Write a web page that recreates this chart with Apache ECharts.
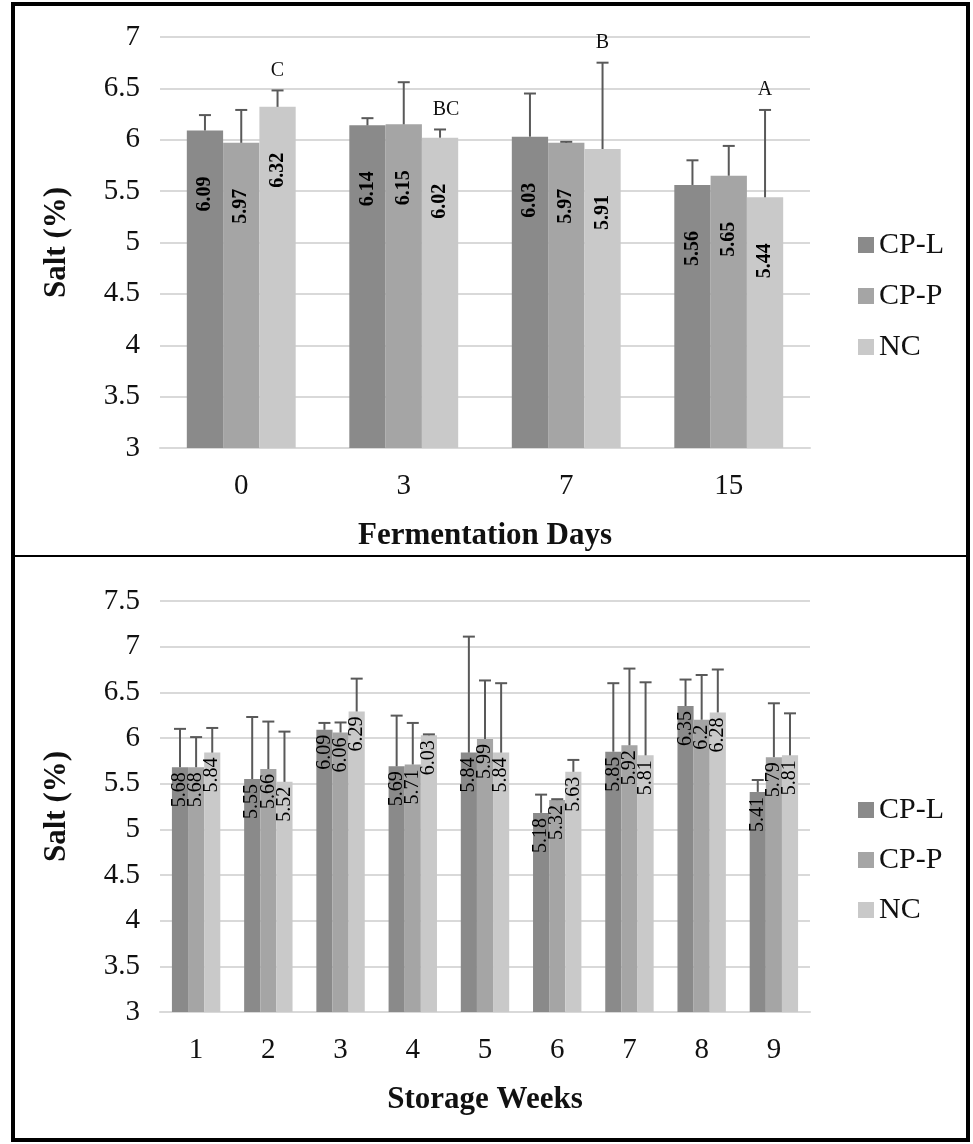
<!DOCTYPE html>
<html>
<head>
<meta charset="utf-8">
<script src="https://cdn.jsdelivr.net/npm/echarts@6/dist/echarts.min.js"></script>
<style>
html,body{margin:0;padding:0;background:#fff;}
#chart{width:973px;height:1144px;}
</style>
</head>
<body>
<div id="chart"></div>
<script>
// ---- Data ----
const seriesNames = ['CP-L', 'CP-P', 'NC'];

// Top chart: Fermentation days
const dayCategories = ['0', '3', '7', '15'];
const dayCPL = [6.09, 6.14, 6.03, 5.56];
const dayCPP = [5.97, 6.15, 5.97, 5.65];
const dayNC  = [6.32, 6.02, 5.91, 5.44];
const dayErrCPL = [0.15, 0.07, 0.42, 0.24];
const dayErrCPP = [0.32, 0.41, 0.01, 0.29];
const dayErrNC  = [0.16, 0.08, 0.84, 0.85];
const daySigLetters = ['C', 'BC', 'B', 'A'];

// Bottom chart: Storage weeks
const weekCategories = ['1', '2', '3', '4', '5', '6', '7', '8', '9'];
const weekCPL = [5.68, 5.55, 6.09, 5.69, 5.84, 5.18, 5.85, 6.35, 5.41];
const weekCPP = [5.68, 5.66, 6.06, 5.71, 5.99, 5.32, 5.92, 6.2, 5.79];
const weekNC  = [5.84, 5.52, 6.29, 6.03, 5.84, 5.63, 5.81, 6.28, 5.81];
const weekErrCPL = [0.42, 0.68, 0.075, 0.555, 1.27, 0.20, 0.75, 0.29, 0.13];
const weekErrCPP = [0.33, 0.52, 0.11, 0.455, 0.64, 0.01, 0.84, 0.49, 0.59];
const weekErrNC  = [0.27, 0.55, 0.36, 0.01, 0.76, 0.13, 0.80, 0.47, 0.46];

const topYTicks = {min: 3, max: 7, interval: 0.5};
const botYTicks = {min: 3, max: 7.5, interval: 0.5};

// ---- Styles ----
const colors = ['#8a8a8a', '#a5a5a5', '#c9c9c9'];
const serif = 'Liberation Serif, Times New Roman, serif';
const gridColor = '#d9d9d9';
const errColor = '#595959';
const catGap = 0.33;

function barSeries(name, data, idx, gridIdx, labelCfg) {
  return {
    name: name, type: 'bar', xAxisIndex: gridIdx, yAxisIndex: gridIdx,
    data: data, barGap: '0%', barCategoryGap: '33%',
    itemStyle: {color: colors[idx]},
    label: labelCfg,
    z: 2
  };
}

function errSeries(name, values, errs, idx, gridIdx, letters) {
  return {
    name: name, type: 'custom', xAxisIndex: gridIdx, yAxisIndex: gridIdx,
    data: values.map((v, i) => [i, v, errs[i]]),
    z: 5, silent: true,
    renderItem: function (params, api) {
      const ci = api.value(0), v = api.value(1), e = api.value(2);
      const band = api.size([1, 0])[0];
      const bw = band * (1 - catGap) / 3;
      const base = api.coord([ci, v]);
      const top = api.coord([ci, v + e]);
      const x = base[0] + (idx - 1) * bw;
      const children = [
        {type: 'line', shape: {x1: x, y1: base[1], x2: x, y2: top[1]},
         style: {stroke: errColor, lineWidth: 2}},
        {type: 'line', shape: {x1: x - 6, y1: top[1], x2: x + 6, y2: top[1]},
         style: {stroke: errColor, lineWidth: 2}}
      ];
      if (letters) {
        children.push({type: 'text', x: x + (letters[ci].length > 1 ? 6 : 0), y: top[1] - 20,
          style: {text: letters[ci], fontFamily: serif, fontSize: 20, fill: '#111',
                  align: 'center', verticalAlign: 'middle'}});
      }
      return {type: 'group', children: children};
    }
  };
}

const topLabel = {
  show: true, position: 'insideTop', distance: 46, rotate: 90,
  align: 'right', verticalAlign: 'middle',
  fontFamily: serif, fontSize: 20, fontWeight: 'bold', color: '#000'
};
const botLabel = {
  show: true, position: 'insideTop', distance: 5, rotate: 90,
  align: 'right', verticalAlign: 'middle',
  fontFamily: serif, fontSize: 20, color: '#000'
};

function xAxisCfg(cats, gridIdx, name, nameGap) {
  return {
    type: 'category', gridIndex: gridIdx, data: cats,
    axisLine: {lineStyle: {color: gridColor, width: 2}},
    axisTick: {show: false},
    axisLabel: {fontFamily: serif, fontSize: 29, color: '#111', margin: 24},
    name: name, nameLocation: 'middle', nameGap: nameGap,
    nameTextStyle: {fontFamily: serif, fontSize: 31, fontWeight: 'bold', color: '#111'}
  };
}
function yAxisCfg(t, gridIdx) {
  return {
    type: 'value', gridIndex: gridIdx, min: t.min, max: t.max, interval: t.interval,
    axisLine: {show: false}, axisTick: {show: false},
    splitLine: {lineStyle: {color: gridColor, width: 2}},
    axisLabel: {fontFamily: serif, fontSize: 29, color: '#111', margin: 20},
    name: 'Salt (%)', nameLocation: 'middle', nameGap: 88, nameRotate: 90,
    nameTextStyle: {fontFamily: serif, fontSize: 31, fontWeight: 'bold', color: '#111'}
  };
}

const legendCommon = {
  orient: 'vertical', left: 853, icon: 'rect', itemWidth: 16, itemHeight: 16,
  data: seriesNames,
  textStyle: {fontFamily: serif, fontSize: 30, color: '#111', padding: [0, 0, 0, 0]},
  selectedMode: false
};

const option = {
  animation: false,
  backgroundColor: '#fff',
  grid: [
    {left: 160, right: 163, top: 37, height: 411},
    {left: 160, right: 163, top: 601, height: 411}
  ],
  xAxis: [xAxisCfg(dayCategories, 0, 'Fermentation Days', 72),
          xAxisCfg(weekCategories, 1, 'Storage Weeks', 72)],
  yAxis: [yAxisCfg(topYTicks, 0), yAxisCfg(botYTicks, 1)],
  legend: [
    Object.assign({}, legendCommon, {top: 225, itemGap: 21}),
    Object.assign({}, legendCommon, {top: 790, itemGap: 20})
  ],
  graphic: [
    {type: 'rect', shape: {x: 13, y: 4, width: 955, height: 1136},
     style: {fill: 'none', stroke: '#000', lineWidth: 4}, z: 100},
    {type: 'line', shape: {x1: 13, y1: 556, x2: 968, y2: 556},
     style: {stroke: '#000', lineWidth: 2}, z: 100}
  ],
  series: [
    barSeries('CP-L', dayCPL, 0, 0, topLabel),
    barSeries('CP-P', dayCPP, 1, 0, topLabel),
    barSeries('NC', dayNC, 2, 0, topLabel),
    errSeries('CP-L', dayCPL, dayErrCPL, 0, 0, null),
    errSeries('CP-P', dayCPP, dayErrCPP, 1, 0, null),
    errSeries('NC', dayNC, dayErrNC, 2, 0, daySigLetters),
    barSeries('CP-L', weekCPL, 0, 1, botLabel),
    barSeries('CP-P', weekCPP, 1, 1, botLabel),
    barSeries('NC', weekNC, 2, 1, botLabel),
    errSeries('CP-L', weekCPL, weekErrCPL, 0, 1, null),
    errSeries('CP-P', weekCPP, weekErrCPP, 1, 1, null),
    errSeries('NC', weekNC, weekErrNC, 2, 1, null)
  ]
};

const chart = echarts.init(document.getElementById('chart'), null, {renderer: 'canvas'});
chart.setOption(option);
</script>
</body>
</html>
